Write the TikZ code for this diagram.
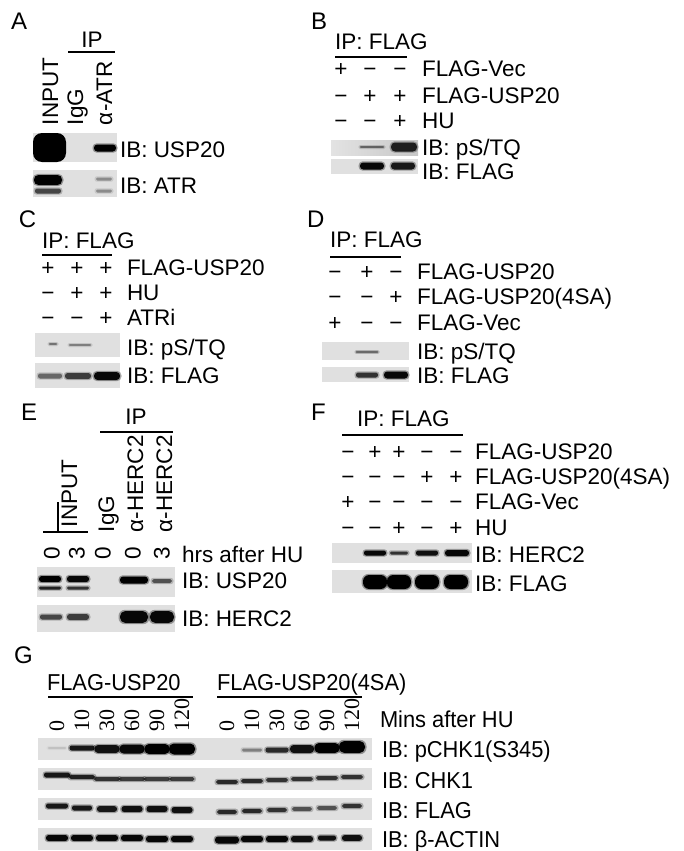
\documentclass[tikz,border=0pt]{standalone}
\usepackage{fontspec}
\setmainfont{Liberation Sans}
\newfontfamily\gfont[FakeStretch=0.95]{Liberation Sans}
\newfontfamily\numfont{Liberation Serif}
\newcommand\wbb[5]{%
  \pgfmathsetmacro\wbr{0.9*min(#3,#4)}%
  \pgfmathsetmacro\wbrr{\wbr+1}%
  \pgfmathsetmacro\wbo{0.35*#5}%
  \fill[black,opacity=\wbo,rounded corners=\wbrr pt] (#1-#3-1.5,#2-#4-1.2) rectangle (#1+#3+1.5,#2+#4+1.2);
  \fill[black,opacity=#5,rounded corners=\wbr pt] (#1-#3,#2-#4) rectangle (#1+#3,#2+#4);}
\begin{document}
\begin{tikzpicture}[x=1pt,y=-1pt,
  every node/.style={inner sep=0pt,outer sep=0pt,font=\fontsize{22.5}{26}\selectfont},
  lbl/.style={anchor=base west},
  plet/.style={anchor=base west,font=\fontsize{24}{28}\selectfont},
  sym/.style={anchor=base},
  rlbl/.style={rotate=90,anchor=base west},
  gtxt/.style={anchor=base west,font=\gfont\fontsize{23}{27}\selectfont},
  gnum/.style={rotate=90,anchor=west,font=\numfont\fontsize{22}{26}\selectfont},
  blot/.style={fill=black!12},
  rule/.style={line width=1.1pt}]
\useasboundingbox (0,0) rectangle (684,851);
\clip (0,0) rectangle (684,851);

% ---------------- Panel A
\node[plet] (lA) at (11,30) {A};
\node[sym] (ipA) at (92,48) {IP};
\draw[rule] (68,52) -- (115,52);
\node[rlbl] (a1) at (58,125) {INPUT};
\node[rlbl] (a2) at (83,125) {IgG};
\node[rlbl] (a3) at (112,125) {α-ATR};
\fill[blot] (33,133) rectangle (117,162);
\fill[black,rounded corners=9pt] (33,133) rectangle (66,162);
\wbb{105}{148}{11}{3.5}{1}
\fill[blot] (33,170) rectangle (117,197);
\wbb{48}{180}{14}{5}{1}
\wbb{48}{191}{13}{2.5}{0.6}
\wbb{104}{179}{8}{1.5}{0.3}
\wbb{104}{191}{8}{1.5}{0.3}
\node[lbl] (ibA1) at (120,157) {IB: USP20};
\node[lbl] (ibA2) at (120,193) {IB: ATR};

% ---------------- Panel B
\node[plet] (lB) at (311,30) {B};
\node[lbl] (ipB) at (335,50) {IP: FLAG};
\draw[rule] (335,57) -- (407,57);
\foreach \x/\s [count=\i] in {341/+,370/−,400/−} \node[sym] (b1\i) at (\x,77) {\s};
\foreach \x/\s [count=\i] in {341/−,370/+,400/+} \node[sym] (b2\i) at (\x,103) {\s};
\foreach \x/\s [count=\i] in {341/−,370/−,400/+} \node[sym] (b3\i) at (\x,128) {\s};
\node[lbl] (tB1) at (422,77) {FLAG-Vec};
\node[lbl] (tB2) at (422,103) {FLAG-USP20};
\node[lbl] (tB3) at (422,128) {HU};
\shade[left color=black!11,right color=black!22] (331,140) rectangle (418,155);
\wbb{372}{147}{12}{0.8}{0.45}
\wbb{404}{147}{13}{4.5}{0.8}
\fill[blot] (331,159) rectangle (418,174);
\wbb{372}{166}{12}{3.5}{0.95}
\wbb{403}{166}{12}{3.5}{0.85}
\node[lbl] (ibB1) at (422,155) {IB: pS/TQ};
\node[lbl] (ibB2) at (422,179) {IB: FLAG};

% ---------------- Panel C
\node[plet] (lC) at (19,227) {C};
\node[lbl] (ipC) at (42,248) {IP: FLAG};
\draw[rule] (42,255) -- (112,255);
\foreach \x/\s [count=\i] in {48/+,77/+,106/+} \node[sym] (c1\i) at (\x,275) {\s};
\foreach \x/\s [count=\i] in {48/−,77/+,106/+} \node[sym] (c2\i) at (\x,300) {\s};
\foreach \x/\s [count=\i] in {48/−,77/−,106/+} \node[sym] (c3\i) at (\x,325) {\s};
\node[lbl] (tC1) at (127,275) {FLAG-USP20};
\node[lbl] (tC2) at (127,300) {HU};
\node[lbl] (tC3) at (127,325) {ATRi};
\fill[blot] (35,333) rectangle (120,357);
\wbb{53}{344}{4}{0.8}{0.4}
\wbb{80}{345}{11}{0.8}{0.35}
\fill[blot] (35,363) rectangle (120,388);
\wbb{50}{376}{12}{2.5}{0.45}
\wbb{78}{376}{13}{3}{0.65}
\wbb{107}{376}{13}{4}{0.95}
\node[lbl] (ibC1) at (127,355) {IB: pS/TQ};
\node[lbl] (ibC2) at (127,383) {IB: FLAG};

% ---------------- Panel D
\node[plet] (lD) at (307,227) {D};
\node[lbl] (ipD) at (330,247) {IP: FLAG};
\draw[rule] (330,257) -- (401,257);
\foreach \x/\s [count=\i] in {335/−,367/+,396/−} \node[sym] (d1\i) at (\x,279.5) {\s};
\foreach \x/\s [count=\i] in {335/−,367/−,396/+} \node[sym] (d2\i) at (\x,304.5) {\s};
\foreach \x/\s [count=\i] in {335/+,367/−,396/−} \node[sym] (d3\i) at (\x,330) {\s};
\node[lbl] (tD1) at (417,279.5) {FLAG-USP20};
\node[lbl] (tD2) at (417,304.5) {FLAG-USP20(4SA)};
\node[lbl] (tD3) at (417,330) {FLAG-Vec};
\fill[blot] (322,342) rectangle (409,360);
\wbb{367}{352}{11}{0.7}{0.6}
\fill[blot] (322,367) rectangle (409,382);
\wbb{367}{375}{11}{2.5}{0.7}
\wbb{396}{375}{12}{3.5}{0.95}
\node[lbl] (ibD1) at (417,359) {IB: pS/TQ};
\node[lbl] (ibD2) at (417,383) {IB: FLAG};

% ---------------- Panel E
\node[plet] (lE) at (21,420) {E};
\node[sym] (ipE) at (136,424) {IP};
\draw[rule] (100,432) -- (173,432);
\node[rlbl] (e1) at (77,527) {INPUT};
\draw[rule] (58,502) -- (58,531);
\draw[rule] (43,532) -- (88,532);
\node[rlbl] (e2) at (114,532) {IgG};
\node[rlbl] (e3) at (143,532) {α-HERC2};
\node[rlbl] (e4) at (172,532) {α-HERC2};
\foreach \x/\s [count=\i] in {52/0,77/3,103/0,133/0,162/3} \node[rotate=90] (eh\i) at (\x,553) {\s};
\node[lbl] (tE) at (182,562) {hrs after HU};
\fill[blot] (37,567) rectangle (175,597);
\wbb{50}{579}{11}{3}{1}
\wbb{50}{588}{11}{1.5}{0.8}
\wbb{78}{579}{11}{3}{0.95}
\wbb{78}{588}{11}{1.5}{0.7}
\wbb{134}{580}{14}{3.5}{1}
\wbb{162}{581}{10}{2}{0.55}
\fill[blot] (37,605) rectangle (175,632);
\wbb{51}{617}{11}{2.5}{0.6}
\wbb{78}{617}{11}{3}{0.65}
\wbb{134}{617}{14}{6}{0.95}
\wbb{162}{617}{12}{6}{0.95}
\node[lbl] (ibE1) at (182,588) {IB: USP20};
\node[lbl] (ibE2) at (182,626) {IB: HERC2};

% ---------------- Panel F
\node[plet] (lF) at (311,420) {F};
\node[lbl] (ipF) at (357,426) {IP: FLAG};
\draw[rule] (342,435) -- (463,435);
\foreach \x/\s [count=\i] in {348/−,375/+,399/+,427/−,456/−} \node[sym] (f1\i) at (\x,459.5) {\s};
\foreach \x/\s [count=\i] in {348/−,375/−,399/−,427/+,456/+} \node[sym] (f2\i) at (\x,484.5) {\s};
\foreach \x/\s [count=\i] in {348/+,375/−,399/−,427/−,456/−} \node[sym] (f3\i) at (\x,509.5) {\s};
\foreach \x/\s [count=\i] in {348/−,375/−,399/+,427/−,456/+} \node[sym] (f4\i) at (\x,535.5) {\s};
\node[lbl] (tF1) at (475,459.5) {FLAG-USP20};
\node[lbl] (tF2) at (475,484.5) {FLAG-USP20(4SA)};
\node[lbl] (tF3) at (475,509.5) {FLAG-Vec};
\node[lbl] (tF4) at (475,535.5) {HU};
\fill[blot] (332,543) rectangle (472,563);
\wbb{375}{553}{11}{2.5}{0.95}
\wbb{399}{553}{9}{1.5}{0.7}
\wbb{427}{553}{11}{2.5}{0.9}
\wbb{457}{553}{12}{3}{0.95}
\fill[blot] (332,570) rectangle (472,593);
\foreach \x in {375,399,427,456} \wbb{\x}{582}{12}{7}{1};
\node[lbl] (ibF1) at (475,562) {IB: HERC2};
\node[lbl] (ibF2) at (475,591) {IB: FLAG};

% ---------------- Panel G
\node[plet] (lG) at (14,663) {G};
\node[gtxt] (gg1) at (47,690) {FLAG-USP20};
\node[gtxt] (gg2) at (217,690) {FLAG-USP20(4SA)};
\draw[rule] (48,697) -- (193,697);
\draw[rule] (217,697) -- (362,697);
\foreach \x/\s [count=\i] in {57/0,82/10,107/30,132/60,157/90,182/120,227/0,252/10,277/30,302/60,327/90,352/120}
  \node[gnum] (gn\i) at (\x,731) {\s};
\node[gtxt] (tG) at (380,727) {Mins after HU};
\fill[blot] (38,738) rectangle (372,760);
\fill[blot] (38,768) rectangle (372,790);
\fill[blot] (38,798) rectangle (372,820);
\fill[blot] (38,828) rectangle (372,850);
% pCHK1
\foreach \x/\y/\w/\h/\o in {57/748/9/1/0.1,82/748/12.5/2.5/0.85,107/749/12.5/4/0.9,132/749/12.5/4.5/0.95,157/749/12.5/5/1,182/749/13/5.5/1,
  252/750/10/1.5/0.35,277/750/11.5/2.5/0.75,302/749/12/4/0.9,327/748/12.5/5/1,352/747/13/6/1}
  \wbb{\x}{\y}{\w}{\h}{\o};
% CHK1
\foreach \x/\y/\w/\h/\o in {57/775/13/2.5/0.85,82/777/13/2.2/0.8,107/779/13/2/0.7,132/779/13/2/0.65,157/779/13/2/0.65,182/779/12.5/2/0.65,
  227/782/11/2/0.75,252/781/11/2/0.75,277/780/11/2/0.7,302/779/11/2/0.7,327/778/11/2/0.7,352/777/11/2/0.7}
  \wbb{\x}{\y}{\w}{\h}{\o};
% FLAG
\foreach \x/\y/\w/\h/\o in {57/806/11/2.5/0.85,82/808/10/2.5/0.85,107/809/10/2.8/0.85,132/809/10.5/3/0.9,157/809/10.5/3/0.9,182/810/10.5/3/0.9,
  227/812/10/2.2/0.75,252/811/10/2.2/0.75,277/810/10/2.2/0.7,302/809/10/2/0.55,327/808/10/2/0.55,352/806/10/2.2/0.7}
  \wbb{\x}{\y}{\w}{\h}{\o};
% beta-actin
\foreach \x/\y/\w/\h/\o in {57/838/11/3/0.95,82/838/11/3/0.95,107/838/11/3/0.95,132/838/11/3/0.95,157/839/11/3/0.95,182/839/11/3/0.95,
  227/840/12/3.5/0.95,252/839/11/3/0.95,277/839/11/3/0.95,302/839/11/3/0.9,327/838/9/2.5/0.9,352/838/10/2.8/0.9}
  \wbb{\x}{\y}{\w}{\h}{\o};
\node[gtxt] (ibG1) at (382,757) {IB: pCHK1(S345)};
\node[gtxt] (ibG2) at (382,788) {IB: CHK1};
\node[gtxt] (ibG3) at (382,818) {IB: FLAG};
\node[gtxt] (ibG4) at (382,847) {IB: β-ACTIN};
\end{tikzpicture}
\end{document}
